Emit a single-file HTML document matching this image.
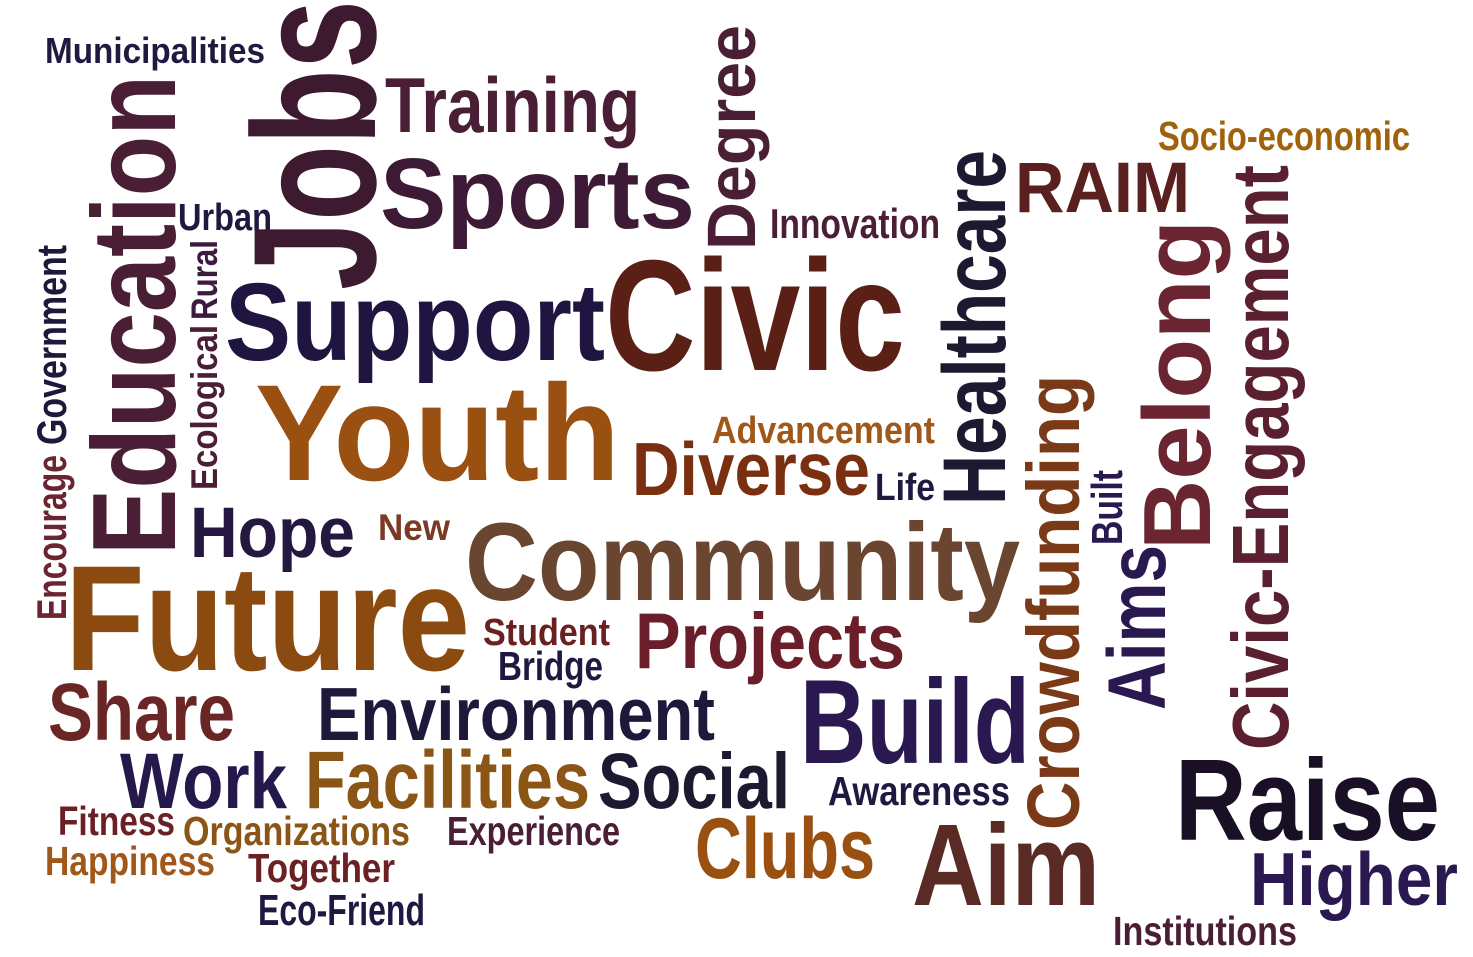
<!DOCTYPE html>
<html>
<head>
<meta charset="utf-8">
<style>
  html,body{margin:0;padding:0;background:#fff;}
  svg{display:block;}
  text{font-family:"Liberation Sans Narrow","Liberation Sans",sans-serif;font-weight:bold;}
</style>
</head>
<body>
<svg id="cloud" width="1473" height="957" viewBox="0 0 1473 957" xmlns="http://www.w3.org/2000/svg">
  <rect width="1473" height="957" fill="#ffffff"/>
</svg>
<script>
const words = ["Municipalities","Training","Sports","Urban","Innovation","Socio-economic","RAIM","Support","Civic","Youth","Advancement","Diverse","Life","Hope","New","Community","Future","Student","Bridge","Projects","Share","Environment","Build","Work","Facilities","Social","Awareness","Fitness","Organizations","Experience","Clubs","Aim","Raise","Higher","Happiness","Together","Eco-Friend","Institutions","Jobs","Degree","Education","Encourage","Government","Ecological","Rural","Healthcare","Crowdfunding","Built","Aims","Belong","Civic-Engagement"];
const weights = [36,78,100,38,42,41,71,110,158,137,38,75,38,71,37,110,150,38,41,79,82,75,120,79,82,79,41,41,41,41,86,116,116,75,41,41,44,41,175,69,119,42,42,37,37,89,74,44,82,96,80];
const colors = ["#1e1a40","#4a1e35","#3d1a35","#201840","#4a1e35","#a0620a","#5a2020","#201540","#5a2015","#9a5010","#a0581a","#7a3010","#201840","#251840","#7a3a25","#6a4530","#8a4a10","#6a2020","#201840","#6a1e2a","#6a2525","#20183a","#2a1850","#25184a","#8a5515","#1e1830","#201840","#6a2025","#8a5515","#4a1e35","#9a5010","#5a2a25","#1a1025","#2a1850","#a0581a","#6a2025","#201840","#4a1e35","#3d1a30","#4a1e35","#4a1e35","#6a2530","#20183a","#4a1e35","#3d1a40","#1e1830","#7a3a18","#2a1850","#2a1850","#6a2530","#5a2030"];
const orient = [0,0,0,0,0,0,0,0,0,0,0,0,0,0,0,0,0,0,0,0,0,0,0,0,0,0,0,0,0,0,0,0,0,0,0,0,0,0,1,1,1,1,1,1,1,1,1,1,1,1,1];
</script>
<script>
// layout (positions/extents) kept separate from word data
const layout = [
[45,63,220],[385,132,255],[380,228,315],[178,230,94],[770,238,170],[1158,150,252],[1015,212,175],[225,360,380],[605,370,300],[255,480,365],[712,443,223],[632,495,238],[875,500,60],[190,557,165],[378,540,72],[465,600,555],[65,670,405],[483,645,127],[498,680,105],[635,668,270],[48,740,187],[317,740,398],[800,763,230],[120,808,167],[305,808,285],[598,808,192],[828,805,182],[58,835,117],[183,845,227],[447,845,173],[695,878,180],[912,905,188],[1175,840,265],[1250,905,208],[45,875,170],[248,882,147],[258,925,167],[1113,945,184],
[375,290,290],[755,250,225],[175,555,480],[66,620,165],[66,445,200],[217,490,165],[217,320,80],[1005,505,355],[1079,830,455],[1122,545,75],[1165,710,165],[1210,550,330],[1288,750,585]
];
const svg = document.getElementById('cloud');
const NS = 'http://www.w3.org/2000/svg';
words.forEach((w,i)=>{
  const t = document.createElementNS(NS,'text');
  const [x,y,len] = layout[i];
  t.setAttribute('font-size', weights[i]);
  t.setAttribute('fill', colors[i]);
  t.setAttribute('textLength', len);
  t.setAttribute('lengthAdjust','spacingAndGlyphs');
  if (orient[i]) {
    t.setAttribute('x',0); t.setAttribute('y',0);
    t.setAttribute('transform','translate('+x+','+y+') rotate(-90)');
  } else {
    t.setAttribute('x',x); t.setAttribute('y',y);
  }
  t.textContent = w;
  
  
  svg.appendChild(t);
});
</script>
</body>
</html>
